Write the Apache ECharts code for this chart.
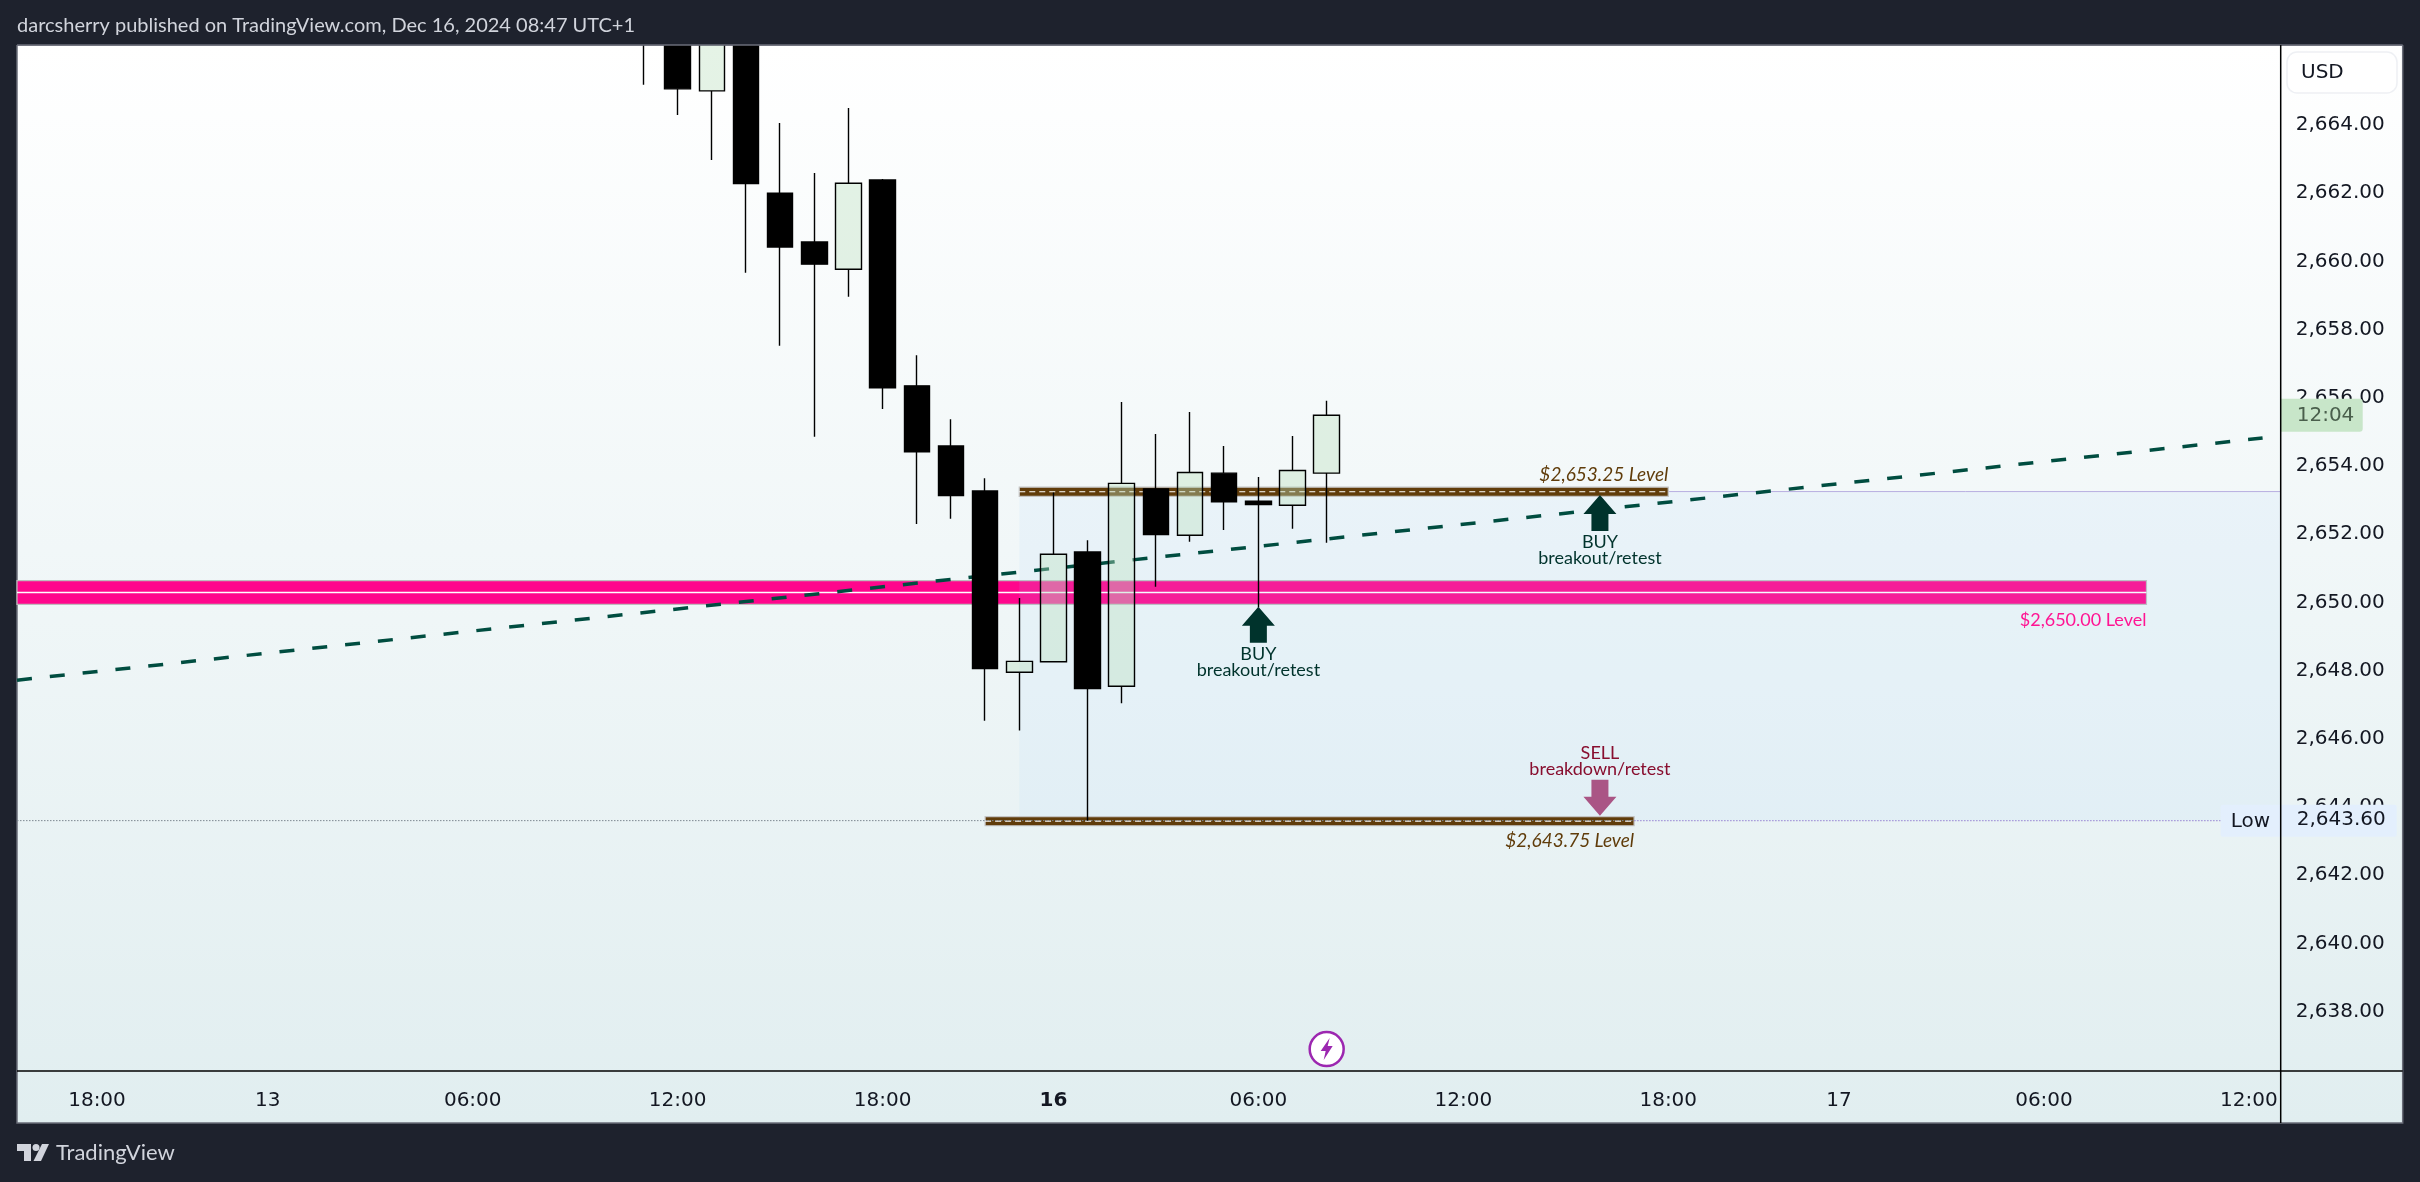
<!DOCTYPE html>
<html><head><meta charset="utf-8">
<style>html,body{margin:0;padding:0;background:#1e222d}#c{width:2420px;height:1182px}</style>
<script src="https://cdn.jsdelivr.net/npm/echarts@6/dist/echarts.min.js"></script>
</head><body><div id="c"></div>
<script>
// ---- data ----
const barIndex = [16,17,18,19,20,21,22,23,24,25,26,27,28,29,30,31,32,33,34,35,36];
const opens  = [2668.0,2667.0,2665.0,2668.0,2662.0,2660.57,2659.77,2662.39,2656.35,2654.59,2653.27,2647.95,2648.26,2651.48,2647.54,2653.33,2651.97,2653.79,2652.97,2652.85,2653.79];
const closes = [2667.0,2665.06,2667.5,2662.28,2660.42,2659.92,2662.29,2656.29,2654.42,2653.13,2648.06,2648.27,2651.41,2647.47,2653.49,2651.99,2653.81,2652.95,2652.87,2653.87,2655.49];
const lows   = [2665.18,2664.29,2662.97,2659.67,2657.53,2654.86,2658.96,2655.67,2652.3,2652.45,2646.53,2646.24,2648.26,2643.6,2647.04,2650.46,2651.78,2652.12,2649.85,2652.16,2651.75];
const highs  = [2670.0,2667.5,2668.0,2668.3,2664.06,2662.59,2664.5,2662.42,2657.25,2655.37,2653.64,2650.13,2653.22,2651.82,2655.88,2654.94,2655.58,2654.59,2653.68,2654.88,2655.91];

const timeLabels = ['18:00','13','06:00','12:00','18:00','16','06:00','12:00','18:00','17','06:00','12:00'];
const timeBars   = [0,5,11,17,23,28,34,40,46,51,57,63];
const priceTicks = [2638,2640,2642,2644,2646,2648,2650,2652,2654,2656,2658,2660,2662,2664];

const levelNames = ['$2,650.00 Level','$2,653.25 Level','$2,643.75 Level'];
const levelFrom  = [-2.342,27,26];
const levelTo    = [60,46,45];
const levelLow   = [2649.94,2653.11,2643.45];
const levelHigh  = [2650.64,2653.38,2643.72];

const trendBars   = [-2.342,63.4];
const trendPrices = [2647.72,2654.82];

const zoneFrom = 27, zoneTop = 2653.25, zoneBottom = 2643.6;
const lowPrice = 2643.6, lowLabel = 'Low', lowPriceLabel = '2,643.60';
const lastPrice = 2655.49, countdown = '12:04';

const signalText = [['BUY','breakout/retest'],['BUY','breakout/retest'],['SELL','breakdown/retest']];
const signalBars = [34,44,44];
const signalTips = [2649.87,2653.15,2643.74];
const boltBar = 36, boltPrice = 2636.9;

// ---- layout / style ----
const W=2420,H=1182, L=17,T=45,R=2280.7,B=1071, FR=2402.7,FB=1123;
const xMin=-2.342, xMax=63.93, yMin=2636.258, yMax=2666.346;
const AX='"DejaVu Sans",sans-serif', UI='Lato,"Noto Sans",sans-serif';
const GREEN='#00332c', BROWN='#603c0a', PINK='#ff1493', RED='#880e2f', SELLARROW='#aa5585';

function custom(name,z,count,draw){
  return {type:'custom',name,z,silent:true,animation:false,coordinateSystem:'cartesian2d',
    data:Array.from({length:count},(_,i)=>[i]),encode:{x:0},
    renderItem:(p,api)=>draw(p.dataIndex,api)};
}
const rect=(x,y,w,h,style,r)=>({type:'rect',shape:{x,y,width:w,height:h,r:r||0},style});
const line=(x1,y1,x2,y2,style)=>({type:'line',shape:{x1,y1,x2,y2},style});
const text=(s,x,y,font,fill,align)=>({type:'text',style:{text:s,x,y,font,fill,align:align||'center',verticalAlign:'middle'}});

const levelStyle=[{fill:'#ff068c',stroke:'#bdbdbd'},{fill:BROWN,stroke:'#c4c4c4'},{fill:BROWN,stroke:'#c4c4c4'}];

const pinkSeries = custom('pink level',2,1,(i,api)=>{
  const a=api.coord([levelFrom[0],levelHigh[0]]),b=api.coord([levelTo[0],levelLow[0]]);
  const mid=(a[1]+b[1])/2;
  return {type:'group',children:[
    rect(a[0],a[1],b[0]-a[0],b[1]-a[1],{fill:levelStyle[0].fill,stroke:levelStyle[0].stroke,lineWidth:1.2}),
    line(a[0],mid,b[0],mid,{stroke:'#ffffff',lineWidth:1.5})]};
});
const zoneSeries = custom('zone',3,1,(i,api)=>{
  const a=api.coord([zoneFrom,zoneTop]),b=api.coord([xMax,zoneBottom]);
  return {type:'group',children:[
    rect(a[0],a[1],b[0]-a[0],b[1]-a[1],{fill:'rgba(167,210,255,0.11)'}),
    line(a[0],a[1],b[0],a[1],{stroke:'#b8aee0',lineWidth:1})]};
});
const brownSeries = custom('brown levels',4,2,(i,api)=>{
  const k=i+1,a=api.coord([levelFrom[k],levelHigh[k]]),b=api.coord([levelTo[k],levelLow[k]]);
  const mid=(a[1]+b[1])/2;
  return {type:'group',children:[
    rect(a[0],a[1],b[0]-a[0],b[1]-a[1],{fill:levelStyle[k].fill,stroke:levelStyle[k].stroke,lineWidth:1.2}),
    line(a[0],mid,b[0],mid,{stroke:'#ffffff',lineWidth:1.2,lineDash:[6,4]})]};
});
const lowSeries = custom('low line',6,1,(i,api)=>{
  const a=api.coord([xMin,lowPrice]),z=api.coord([levelTo[2],lowPrice]),e=[R-60,a[1]];
  return {type:'group',children:[
    line(a[0],a[1],z[0],a[1],{stroke:'#7d8790',lineWidth:1,lineDash:[1.5,1.5]}),
    line(z[0],a[1],e[0],a[1],{stroke:'#a596d8',lineWidth:1.2,lineDash:[1.5,1.5]})]};
});
const trendSeries = {type:'line',name:'trend',z:5,silent:true,animation:false,symbol:'none',
  data:trendBars.map((b,i)=>[b,trendPrices[i]]),
  lineStyle:{color:'#004d40',width:3.5,type:[15,18]}};

const candles = {type:'candlestick',name:'XAUUSD',z:8,silent:true,animation:false,clip:true,
  barWidth:26,
  encode:{x:0,y:[1,2,3,4]},
  data:barIndex.map((b,i)=>[b,opens[i],closes[i],lows[i],highs[i]]),
  itemStyle:{color:'rgba(188,224,191,0.39)',color0:'#000000',borderColor:'#000000',borderColor0:'#000000',borderWidth:1.4}};

const arrow=(x,tip,s,fill)=>{ // s=-1: tip on top, s=1: tip at the bottom
  const hh=19,hw=16.5,sh=17,sw=8.5;
  return {type:'polygon',shape:{points:[[x,tip],[x+hw,tip-s*hh],[x+sw,tip-s*hh],[x+sw,tip-s*(hh+sh)],[x-sw,tip-s*(hh+sh)],[x-sw,tip-s*hh],[x-hw,tip-s*hh]]},style:{fill}};
};
const signalSeries = custom('signals',10,3,(i,api)=>{
  const p=api.coord([signalBars[i],signalTips[i]]);
  const sell=i===2, col=sell?RED:GREEN, font='18px '+UI;
  const ch=[arrow(p[0],p[1],sell?1:-1,sell?SELLARROW:GREEN)];
  if(sell){
    ch.push(text(signalText[i][0],p[0],p[1]-63,font,col));
    ch.push(text(signalText[i][1],p[0],p[1]-47,font,col));
  }else{
    ch.push(text(signalText[i][0],p[0],p[1]+47,font,col));
    ch.push(text(signalText[i][1],p[0],p[1]+63,font,col));
  }
  return {type:'group',children:ch};
});
const levelLabelSeries = custom('level labels',10,3,(i,api)=>{
  const y=i===0?levelLow[0]:(i===1?levelHigh[1]:levelLow[2]);
  const p=api.coord([levelTo[i],y]);
  const dy=[16,-12,15][i];
  const font=(i===0?'18px ':'italic 19px ')+UI;
  return text(levelNames[i],p[0],p[1]+dy,font,i===0?PINK:BROWN,'right');
});
const boltSeries = custom('bolt',11,1,(i,api)=>{
  const p=api.coord([boltBar,boltPrice]),x=p[0],y=p[1];
  const pts=[[3,-11],[-6,2],[-1,2],[-3,11],[6,-3],[1,-3]].map(q=>[x+q[0],y+q[1]]);
  return {type:'group',children:[
    {type:'circle',shape:{cx:x,cy:y,r:17},style:{fill:'#ffffff',stroke:'#9c27b0',lineWidth:2.5}},
    {type:'polygon',shape:{points:pts},style:{fill:'#9c27b0'}}]};
});
const chipSeries = custom('price chips',20,2,(i,api)=>{
  const px=i===0?lastPrice:lowPrice, y=api.coord([xMax,px])[1];
  if(i===0) return {type:'group',children:[
    rect(R,y-16.5,82,33,{fill:'#c8e6c9'},[0,3,3,0]),
    text(countdown,R+16,y+1,'20px '+AX,'#4a5f4c','left')]};
  return {type:'group',children:[
    rect(R-60,y-16,176,32,{fill:'#e3effd'},2),
    text(lowLabel,R-50,y+1,'20px '+AX,'#131722','left'),
    text(lowPriceLabel,R+16,y-1,'20px '+AX,'#131722','left')]};
});

const logo=[[0,0],[14,0],[14,17],[7,17],[7,7],[0,7]];
const chart=echarts.init(document.getElementById('c'),null,{renderer:'canvas',width:W,height:H});
chart.setOption({
  animation:false,
  backgroundColor:'#1e222d',
  textStyle:{fontFamily:AX},
  grid:{left:L,top:T,width:R-L,height:B-T,containLabel:false},
  xAxis:{type:'value',min:xMin,max:xMax,
    axisLine:{show:false},axisTick:{show:false},splitLine:{show:false},
    axisLabel:{customValues:timeBars,margin:20,fontSize:20,fontFamily:AX,color:'#131722',
      formatter:v=>{const s=timeLabels[timeBars.indexOf(v)]||'';return s==='16'?'{b|16}':s;},
      rich:{b:{fontWeight:'bold',fontSize:20,fontFamily:AX,color:'#131722'}}}},
  yAxis:{type:'value',position:'right',min:yMin,max:yMax,scale:true,
    axisLine:{show:false},axisTick:{show:false},splitLine:{show:false},
    axisLabel:{customValues:priceTicks,margin:15,fontSize:20,fontFamily:AX,color:'#131722',padding:[3,0,0,0],
      formatter:v=>v.toLocaleString('en-US',{minimumFractionDigits:2,maximumFractionDigits:2})}},
  graphic:[
    {type:'rect',z:-5,shape:{x:L,y:T,width:FR-L,height:FB-T},
      style:{stroke:'#6a6d78',lineWidth:1.5,fill:{type:'linear',x:0,y:0,x2:0,y2:1,colorStops:[{offset:0,color:'#ffffff'},{offset:1,color:'#e1eef0'}]}}},
    {type:'rect',z:40,shape:{x:0,y:0,width:W,height:T},style:{fill:'#1e222d'}},
    {type:'line',z:41,shape:{x1:L,y1:T,x2:FR,y2:T},style:{stroke:'#6a6d78',lineWidth:1.5}},
    {type:'text',z:50,style:{text:'darcsherry published on TradingView.com, Dec 16, 2024 08:47 UTC+1',x:17,y:26,font:'20px '+UI,fill:'#d1d4dc',verticalAlign:'middle'}},
    {type:'line',z:60,shape:{x1:R,y1:T,x2:R,y2:FB},style:{stroke:'#000',lineWidth:1.5}},
    {type:'line',z:60,shape:{x1:L,y1:B,x2:FR,y2:B},style:{stroke:'#000',lineWidth:1.5}},
    {type:'rect',z:50,shape:{x:2287,y:52,width:110,height:41,r:10},style:{fill:'#ffffff',stroke:'#eef0f4',lineWidth:1.5}},
    {type:'text',z:51,style:{text:'USD',x:2301,y:73,font:'20px '+AX,fill:'#131722',verticalAlign:'middle'}},
    {type:'polygon',z:50,shape:{points:logo.map(p=>[17+p[0],1144+p[1]])},style:{fill:'#d1d4dc'}},
    {type:'circle',z:50,shape:{cx:36,cy:1147.5,r:3.5},style:{fill:'#d1d4dc'}},
    {type:'polygon',z:50,shape:{points:[[42,1144],[49,1144],[41,1161],[33.5,1161]]},style:{fill:'#d1d4dc'}},
    {type:'text',z:50,style:{text:'TradingView',x:56,y:1153,font:'22px '+UI,fill:'#d1d4dc',verticalAlign:'middle'}}
  ],
  series:[pinkSeries,zoneSeries,brownSeries,trendSeries,lowSeries,candles,signalSeries,levelLabelSeries,boltSeries,chipSeries]
});
</script></body></html>
